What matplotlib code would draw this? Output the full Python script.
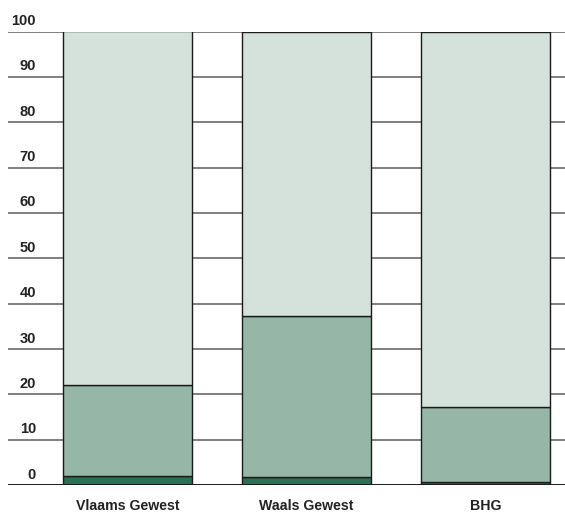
import matplotlib.pyplot as plt
import numpy as np

plt.rcParams['font.family'] = ['Liberation Sans Narrow', 'Liberation Sans', 'DejaVu Sans']

regions = ['Vlaams Gewest', 'Waals Gewest', 'BHG']
dark = [2.0, 1.7, 0.6]
medium = [20.1, 35.5, 16.5]
light = [77.9, 62.8, 82.9]
yticks = [0, 10, 20, 30, 40, 50, 60, 70, 80, 90, 100]

colors = ['#2d6e55', '#96b6a7', '#d5e2dc']

fig = plt.figure(figsize=(5.65, 5.14), dpi=100)
ax = fig.add_axes([8 / 565, 29 / 514, 557 / 565, 453.5 / 514])

x = np.arange(len(regions))
w = 0.72

# grid lines behind bars
for v in yticks[1:]:
    ax.axhline(v, color='#7f7f7f', lw=1.4, zorder=0)
ax.axhline(0, color='#1a1a1a', lw=1.4, zorder=3)

bottom = np.zeros(len(regions))
for vals, c in zip([dark, medium, light], colors):
    ax.bar(x, vals, w, bottom=bottom, color=c, edgecolor='#1a1a1a', lw=1.0, zorder=2)
    bottom += np.array(vals)

ax.set_xlim(-0.668, 2.444)
ax.set_ylim(0, 100)
ax.axis('off')

for v in yticks:
    ax.text(-0.512, v + 2.3, str(v), ha='right', va='center', fontsize=10.5,
            fontweight='bold', color='#222222', clip_on=False)

for xi, name in zip(x, regions):
    ax.text(xi, -4.6, name, ha='center', va='center', fontsize=10.2,
            fontweight='bold', color='#222222', clip_on=False)

fig.savefig('out.png', dpi=100)
